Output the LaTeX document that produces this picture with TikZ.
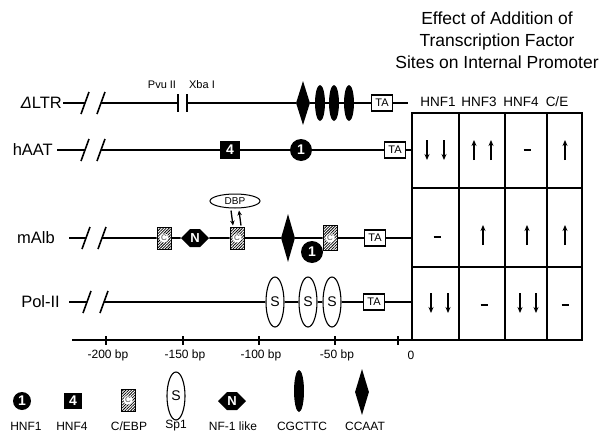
\documentclass[tikz,border=0pt]{standalone}
\usepackage{fontspec}
\setmainfont{Liberation Sans}
\usetikzlibrary{positioning, arrows.meta, shapes.geometric, shapes.symbols, patterns.meta, calc}

\begin{document}
\begin{tikzpicture}[
    x=1pt, y=-1pt,
    dna/.style={line width=1.6pt},
    rowlbl/.style={font=\fontsize{16.5}{18}\selectfont, inner sep=0pt},
    ttl/.style={font=\fontsize{17.5}{22}\selectfont, align=center},
    hdr/.style={font=\fontsize{13.5}{14}\selectfont, inner sep=0pt},
    small/.style={font=\fontsize{11}{12}\selectfont, inner sep=0pt},
    axlbl/.style={font=\fontsize{12}{13}\selectfont, inner sep=0pt},
    leglbl/.style={font=\fontsize{12}{13}\selectfont, inner sep=0pt},
    ta/.style={
        draw, line width=1.3pt,
        font=\fontsize{11}{11}\selectfont,
        minimum width=21pt, minimum height=16pt,
        inner sep=0pt
    },
    hnfone/.style={
        circle, fill=black, text=white,
        font=\fontsize{14}{14}\selectfont\bfseries,
        minimum size=22pt, inner sep=0pt
    },
    hnffour/.style={
        fill=black, text=white,
        font=\fontsize{14}{14}\selectfont\bfseries,
        minimum width=20pt, minimum height=18pt, inner sep=0pt
    },
    cebp/.style={
        draw, line width=1pt,
        pattern={Lines[angle=45, distance=2pt, line width=0.8pt]},
        minimum width=14pt, minimum height=22pt, inner sep=0pt,
        label={[ellipse, fill=white, inner sep=0.4pt,
                font=\fontsize{8}{8}\selectfont, text=black!70]center:C}
    },
    spone/.style={
        draw, ellipse, line width=1.1pt,
        font=\fontsize{14}{14}\selectfont,
        minimum width=18pt, minimum height=50pt, inner sep=0pt
    },
    nfone/.style={
        signal, signal to=west and east,
        fill=black, text=white,
        font=\fontsize{13}{13}\selectfont\bfseries,
        minimum width=28pt, minimum height=18pt, inner sep=0pt
    },
    ccaat/.style={
        diamond, fill=black, aspect=0.3,
        minimum width=14pt, minimum height=44pt, inner sep=0pt
    },
    cgcttc/.style={
        ellipse, fill=black,
        minimum width=10pt, minimum height=36pt, inner sep=0pt
    },
    dbp/.style={
        draw, ellipse, line width=1pt,
        font=\fontsize{10}{10}\selectfont,
        minimum width=50pt, minimum height=14pt, inner sep=0pt
    },
    bindarr/.style={line width=1.3pt, -{Stealth[length=5pt, width=4.5pt]}},
    cellarr/.style={line width=1.2pt, -{Stealth[length=6pt, width=5pt]}},
    nochg/.style={line width=2.5pt},
    grid/.style={line width=2pt}
]
\useasboundingbox (0,0) rectangle (606,434);

% ===================== TITLE =====================
\node[ttl] (title) at (497,40)
{Effect of Addition of\\Transcription Factor\\Sites on Internal Promoter};

% ===================== DELTA LTR =====================
\node[rowlbl, anchor=east] (ltr) at (62,103) {\textit{Δ}LTR};
\coordinate (ltrL) at (63,103);
\coordinate (ltrB1) at (85,103);
\coordinate (ltrB2) at (101,103);
\coordinate (pvu) at (178,103);
\coordinate (xba) at (187,103);
\node[small] (pvuT) at (162,85) {Pvu II};
\node[small] (xbaT) at (202,85) {Xba I};
\node[ccaat] (ltrD) at (303,103) {};
\node[cgcttc] (ltrE1) at (320,103) {};
\node[cgcttc] (ltrE2) at (334,103) {};
\node[cgcttc] (ltrE3) at (349,103) {};
\node[ta] (ltrTA) at (382,103) {TA};
\coordinate (ltrR) at (408,103);

\draw[dna] (ltrL) -- (ltrB1);
\draw[dna] (ltrB2) -- (pvu);
\draw[dna] (xba) -- (ltrD) -- (ltrE1) -- (ltrE2) -- (ltrE3) -- (ltrTA) -- (ltrR);
\draw[line width=1.1pt] ($(pvu)+(0,-9)$) -- ($(pvu)+(0,9)$);
\draw[line width=1.1pt] ($(xba)+(0,-9)$) -- ($(xba)+(0,9)$);

% ===================== hAAT =====================
\node[rowlbl, anchor=east] (hat) at (53,150) {hAAT};
\coordinate (hatL) at (57,150);
\coordinate (hatB1) at (85,150);
\coordinate (hatB2) at (101,150);
\node[hnffour] (hat4) at (230,150) {4};
\node[hnfone] (hat1) at (301,150) {1};
\node[ta] (hatTA) at (395,150) {TA};
\coordinate (hatR) at (412,150);

\draw[dna] (hatL) -- (hatB1);
\draw[dna] (hatB2) -- (hat4) -- (hat1) -- (hatTA) -- (hatR);

% ===================== mAlb =====================
\node[rowlbl, anchor=east] (alb) at (55,238) {mAlb};
\coordinate (albL) at (69,238);
\coordinate (albB1) at (86,238);
\coordinate (albB2) at (102,238);
\node[cebp] (albC1) at (164,238) {};
\node[nfone] (albN) at (195,238) {N};
\node[cebp] (albC2) at (237,238) {};
\node[ccaat, minimum height=48pt] (albD) at (288,238) {};
\node[hnfone] (alb1) at (312,252) {1};
\node[cebp, minimum height=25pt] (albC3) at (330,238) {};
\node[ta] (albTA) at (375,238) {TA};
\coordinate (albR) at (412,238);
\node[dbp] (dbp) at (235,201) {DBP};

\draw[dna] (albL) -- (albB1);
\draw[dna] (albB2) -- (albC1) -- (albN) -- (albC2) -- (albD) -- (albC3) -- (albTA) -- (albR);
\draw[bindarr] ([xshift=-4pt, yshift=-2pt]dbp.south) -- ([xshift=-4pt, yshift=1pt]albC2.north);
\draw[bindarr] ([xshift=4pt, yshift=1pt]albC2.north) -- ([xshift=4pt, yshift=-2pt]dbp.south);

% ===================== Pol-II =====================
\node[rowlbl, anchor=east] (pol) at (60,302) {Pol-II};
\coordinate (polL) at (69,302);
\coordinate (polB1) at (87,302);
\coordinate (polB2) at (104,302);
\node[spone] (polSa) at (275,302) {S};
\node[spone] (polSb) at (308,302) {S};
\node[spone] (polSc) at (332,302) {S};
\node[ta] (polTA) at (374,302) {TA};
\coordinate (polR) at (412,302);

\draw[dna] (polL) -- (polB1);
\draw[dna] (polB2) -- (polSa) -- (polSb) -- (polSc) -- (polTA) -- (polR);

% break marks on every row
\foreach \r in {ltr, hat, alb, pol} {
    \draw[dna] ($(\r B1)+(-4,11)$) -- ($(\r B1)+(4,-11)$);
    \draw[dna] ($(\r B2)+(-4,11)$) -- ($(\r B2)+(4,-11)$);
}

% ===================== SCALE =====================
\coordinate (axL) at (72,340);
\coordinate (axR) at (412,340);
\draw[dna] (axL) -- (axR);
\foreach \x/\t in {106/-200 bp, 183/-150 bp, 259/-100 bp, 335/-50 bp} {
    \draw[line width=1.2pt] (\x,336) -- (\x,345);
    \node[axlbl] at (\x+2,355) {\t};
}
\draw[line width=1.2pt] (398,336) -- (398,345);
\node[axlbl] (zero) at (411,355) {0};

% ===================== EFFECT TABLE =====================
\node[hdr] (hA) at (438,102) {HNF1};
\node[hdr] (hB) at (479,102) {HNF3};
\node[hdr] (hC) at (521,102) {HNF4};
\node[hdr] (hD) at (557,102) {C/E};

\draw[grid] (412,113) rectangle (582,340);
\draw[grid] (412,188) -- (582,188);
\draw[grid] (412,267) -- (582,267);
\draw[grid] (459,113) -- (459,340);
\draw[grid] (505,113) -- (505,340);
\draw[grid] (547,113) -- (547,340);

% down arrows
\foreach \x/\y in {427/150, 444/150, 431/303, 448/303, 520/303, 536/303}
    \draw[cellarr] (\x,\y-10) -- (\x,\y+10);
% up arrows
\foreach \x/\y in {474/150, 491/150, 565/150, 483/235, 527/235, 565/235}
    \draw[cellarr] (\x,\y+10) -- (\x,\y-10);
% no change
\foreach \x/\y in {527/150, 437/237, 484/305, 565/305}
    \draw[nochg] (\x-3.5,\y) -- (\x+3.5,\y);

% ===================== LEGEND =====================
\node[hnfone, minimum size=18pt] (kA) at (22,401) {1};
\node[hnffour, minimum width=18pt, minimum height=16pt] (kB) at (73,401) {4};
\node[cebp] (kC) at (128,400) {};
\node[spone, minimum height=48pt] (kD) at (176,396) {S};
\node[nfone] (kE) at (232,401) {N};
\node[cgcttc, minimum height=42pt] (kF) at (299,391) {};
\node[ccaat, minimum height=46pt] (kG) at (362,392) {};

\node[leglbl] (kAt) at (26,426) {HNF1};
\node[leglbl] (kBt) at (72,426) {HNF4};
\node[leglbl] (kCt) at (129,426) {C/EBP};
\node[leglbl] (kDt) at (176,426) {Sp1};
\node[leglbl] (kEt) at (233,426) {NF-1 like};
\node[leglbl] (kFt) at (302,426) {CGCTTC};
\node[leglbl] (kGt) at (365,426) {CCAAT};

\end{tikzpicture}
\end{document}
